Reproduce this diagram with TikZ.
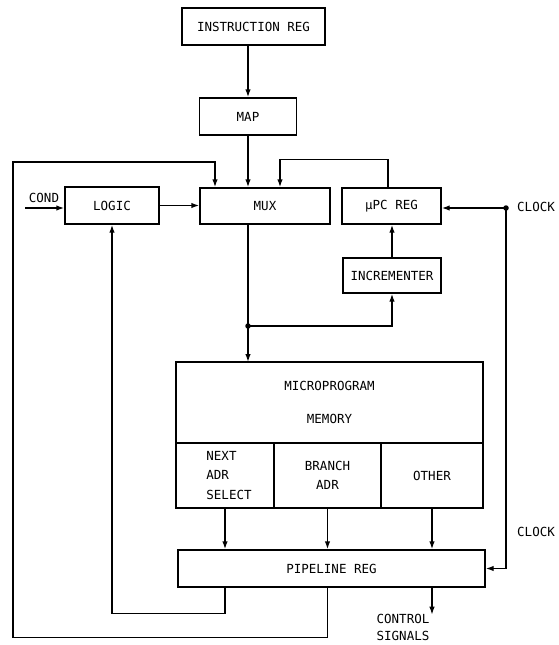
\documentclass[tikz,border=0pt]{standalone}
\usepackage{fontspec}
\setmainfont{DejaVu Sans Mono}
\usepackage{tikz}
\usetikzlibrary{
  arrows.meta,
  calc,
  positioning
}
\tikzset{
  blk/.style={draw=black,line width=1.4pt,fill=white,inner sep=2pt,
    align=center,font=\fontsize{12.5}{15}\selectfont},
  field/.style={draw=black,line width=1.4pt,inner sep=2pt,outer sep=0pt,
    minimum height=65pt,font=\fontsize{12.5}{19.5}\selectfont},
  flow/.style={-{Latex[length=8pt,width=5.5pt]},line width=1.4pt},
  lab/.style={inner sep=1pt,font=\fontsize{12.5}{19}\selectfont,align=center},
  joint/.style={circle,fill=black,inner sep=0pt,minimum size=5.5pt}
}

\begin{document}
\begin{tikzpicture}[x=1pt,y=-1pt]
  \useasboundingbox (0,0) rectangle (558,645);
  % blocks
  \node[blk,minimum width=143pt,minimum height=37pt] (ireg) at (253.5,26.5) {INSTRUCTION REG};
  \node[blk,minimum width=97pt,minimum height=37pt] (map) at (248,116.5) {MAP};
  \node[blk,minimum width=130pt,minimum height=36pt] (mux) at (265,206) {MUX};
  \node[blk,minimum width=94pt,minimum height=37pt] (logic) at (112,205.5) {LOGIC};
  \node[blk,minimum width=99pt,minimum height=36pt] (upc) at (391.5,206) {µPC REG};
  \node[blk,minimum width=98pt,minimum height=35pt] (incr) at (392,275.5) {INCREMENTER};
  \node[blk,minimum width=307pt,minimum height=81pt,outer sep=0pt,
    font=\fontsize{12.5}{33}\selectfont] (mem) at (329.5,402.5) {MICROPROGRAM\\MEMORY};
  \node[field,minimum width=98pt,align=left,anchor=north west] (next) at (mem.south west)
    {\hspace*{8pt}NEXT\\\hspace*{8pt}ADR\\\hspace*{8pt}SELECT};
  \node[field,minimum width=107pt,align=center,anchor=north west] (branch) at (next.north east) {BRANCH\\ADR};
  \node[field,minimum width=102pt,anchor=north west] (other) at (branch.north east) {OTHER};
  \node[blk,minimum width=307pt,minimum height=37pt] (pipe) at (331.5,568.5) {PIPELINE REG};
  % inputs and labels
  \coordinate (cond) at (25,208);
  \node[lab] (condlab) at (44,198) {COND};
  \coordinate (clk) at (506,208);
  \node[lab,anchor=west] (clocklab) at (516,207) {CLOCK};
  \node[lab,anchor=west] (clocklab2) at (516,532) {CLOCK};
  \coordinate (jn) at (248,326);
  \node[lab] (ctrl) at (403,627) {CONTROL\\[-2pt]SIGNALS};
  % connectors
  \draw[flow] (map.north |- ireg.south) -- (map.north);
  \draw[flow] (map.south) -- (map.south |- mux.north);
  \draw[flow] (cond) -- (cond -| logic.west);
  \draw[flow] (logic.east) -- (logic.east -| mux.west);
  \draw[flow] (clk) -- (clk -| upc.east);
  \draw[flow] (clk) |- (pipe.east);
  \draw[flow] (incr.north) -- (incr.north |- upc.south);
  \draw[flow] ([xshift=-3.5pt]upc.north) -- ++(0,-28) -| ([xshift=15pt]mux.north);
  \draw[flow] (mux.south -| jn) -- (mem.north -| jn);
  \draw[flow] (jn) -| (incr.south);
  \draw[flow] (next.south) -- (next.south |- pipe.north);
  \draw[flow] (branch.south) -- (branch.south |- pipe.north);
  \draw[flow] (other.south) -- (other.south |- pipe.north);
  \draw[flow] (pipe.south -| next) -- ++(0,26) -| (logic.south);
  \draw[flow] (pipe.south -| branch) -- ++(0,50) -| (13,162) -| ([xshift=-50pt]mux.north);
  \draw[flow] (pipe.south -| other) -- ++(0,27);
  \node[joint] at (clk) {};
  \node[joint] at (jn) {};
\end{tikzpicture}
\end{document}
